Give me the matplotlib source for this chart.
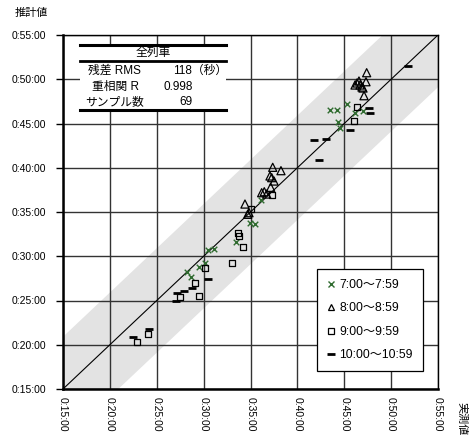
import matplotlib
matplotlib.use("Agg")
import matplotlib.pyplot as plt
import numpy as np
from matplotlib.lines import Line2D
from matplotlib.patches import Rectangle

plt.rcParams['font.family'] = ['Liberation Sans', 'Noto Sans CJK JP', 'DejaVu Sans']

# values in minutes (measured, estimated)
x_7 = [45.26, 43.48, 44.19, 46.15, 47.03, 44.30, 44.55, 36.12, 34.95, 35.48,
       33.42, 30.50, 31.11, 30.15, 29.54, 28.19, 28.65]
y_7 = [47.17, 46.49, 46.49, 46.15, 46.41, 45.14, 44.46, 36.36, 33.79, 33.64,
       31.64, 30.71, 30.85, 29.20, 28.82, 28.25, 27.62]
x_8 = [47.39, 47.32, 46.36, 46.57, 46.68, 46.15, 46.89, 47.00, 47.11, 37.37,
       38.25, 37.08, 37.26, 37.51, 37.15, 36.19, 36.47, 36.73, 34.41, 34.70, 34.84]
y_8 = [50.74, 49.72, 49.58, 49.80, 49.35, 49.35, 49.12, 49.01, 48.14, 40.05,
       39.67, 39.07, 38.88, 38.50, 37.79, 37.18, 37.29, 37.03, 35.90, 34.74, 34.92]
x_9 = [46.33, 46.04, 37.33, 35.02, 33.63, 33.77, 34.17, 32.99, 30.15, 29.08,
       27.48, 29.51, 24.03, 22.86]
y_9 = [46.90, 45.25, 36.92, 35.37, 32.66, 32.29, 31.08, 29.20, 28.67, 26.94,
       25.43, 25.54, 21.18, 20.28]
x_10 = [51.83, 47.67, 47.75, 45.61, 41.81, 43.05, 42.31, 30.43, 27.13, 27.91,
        28.79, 27.05, 22.47, 24.14]
y_10 = [51.53, 46.72, 46.22, 44.27, 43.14, 43.25, 40.88, 27.40, 25.88, 26.11,
        26.45, 24.98, 20.84, 21.76]

series_labels = ['7:00～7:59', '8:00～8:59', '9:00～9:59', '10:00～10:59']
ticks = [15, 20, 25, 30, 35, 40, 45, 50, 55]
tick_labels = [f'0:{t:02d}:00' for t in ticks]
rms_sec = 118
corr_r = '0.998'
n_samples = 69

W, H = 470, 441
fig = plt.figure(figsize=(W / 100, H / 100), dpi=100)
L, R, T, B = 63, 438, 35, 389
ax = fig.add_axes([L / W, 1 - B / H, (R - L) / W, (B - T) / H])
ax.set_xlim(15, 55)
ax.set_ylim(15, 55)

# band +-3 RMS
band = 3 * rms_sec / 60.0
xs = np.array([0, 70])
ax.fill_between(xs, xs - band, xs + band, color='#e3e3e3', lw=0, zorder=0.2)
ax.plot(xs, xs, color='black', lw=0.8, zorder=1.2)

ax.set_axisbelow(True)
ax.grid(True, color='#333333', lw=1.0)
ax.set_xticks(ticks)
ax.set_yticks(ticks)
ax.set_xticklabels(tick_labels, rotation=270, fontsize=7.5)
ax.set_yticklabels(tick_labels, fontsize=7.5)
ax.tick_params(axis='x', length=0, pad=6)
ax.tick_params(axis='y', length=5, width=1, pad=7)
for s in ax.spines.values():
    s.set_color('black')
    s.set_linewidth(1.0)
ax.spines['left'].set_linewidth(1.8)
ax.spines['bottom'].set_linewidth(1.8)

ax.scatter(x_7, y_7, marker='x', s=16, color='#2f6b2f', lw=1.0, zorder=3)
ax.scatter(x_8, y_8, marker='^', s=34, facecolors='none', edgecolors='black', lw=0.9, zorder=3)
ax.scatter(x_9, y_9, marker='s', s=20, facecolors='none', edgecolors='black', lw=0.9, zorder=3)
ax.scatter(x_10, y_10, marker='_', s=30, color='black', lw=2.0, zorder=3)

leg_handles = [
    Line2D([], [], ls='none', marker='x', ms=4, mec='#2f6b2f', mew=1.0),
    Line2D([], [], ls='none', marker='^', ms=5, mfc='none', mec='black', mew=0.9),
    Line2D([], [], ls='none', marker='s', ms=4.5, mfc='none', mec='black', mew=0.9),
    Line2D([], [], ls='none', marker='_', ms=6, mec='black', mew=2.0),
]
leg = ax.legend(leg_handles, series_labels, loc='lower left',
                bbox_to_anchor=((317 - L) / (R - L), (B - 371) / (B - T)),
                frameon=True, fancybox=False, edgecolor='black', framealpha=1,
                fontsize=8.7, labelspacing=0.95, borderpad=0.8,
                handlelength=0.75, handletextpad=0.3, borderaxespad=0)
leg.get_frame().set_linewidth(0.9)
leg.set_zorder(5)

# table box
def fx(x):
    return x / W

def fy(y):
    return 1 - y / H

tx0, tx1 = 80, 226
fig.patches.append(Rectangle((fx(tx0), fy(111)), fx(tx1) - fx(tx0), fy(45) - fy(111),
                             transform=fig.transFigure, facecolor='white', edgecolor='none', zorder=4))
for yy, lw in [(45, 2.2), (61, 2.0), (110, 2.2)]:
    fig.add_artist(Line2D([fx(tx0), fx(tx1)], [fy(yy), fy(yy)], color='black', lw=lw, zorder=5))

fs = 8.5
fig.text(fx(153), fy(53), '全列車', ha='center', va='center', fontsize=fs, zorder=6)
fig.text(fx(114), fy(71), '残差 RMS', ha='center', va='center', fontsize=fs, zorder=6)
fig.text(fx(116), fy(87), '重相関 R', ha='center', va='center', fontsize=fs, zorder=6)
fig.text(fx(115), fy(102), 'サンプル数', ha='center', va='center', fontsize=fs, zorder=6)
fig.text(fx(173), fy(71), f'{rms_sec}（秒）', ha='left', va='center', fontsize=fs, zorder=6)
fig.text(fx(164), fy(87), corr_r, ha='left', va='center', fontsize=fs, zorder=6)
fig.text(fx(179), fy(102), str(n_samples), ha='left', va='center', fontsize=fs, zorder=6)

# axis titles
fig.text(fx(15), fy(13), '推計値', ha='left', va='center', fontsize=8)
fig.text(fx(461), fy(402), '実測値', ha='center', va='top', rotation=270, fontsize=8)

fig.savefig('out.png', dpi=100)
